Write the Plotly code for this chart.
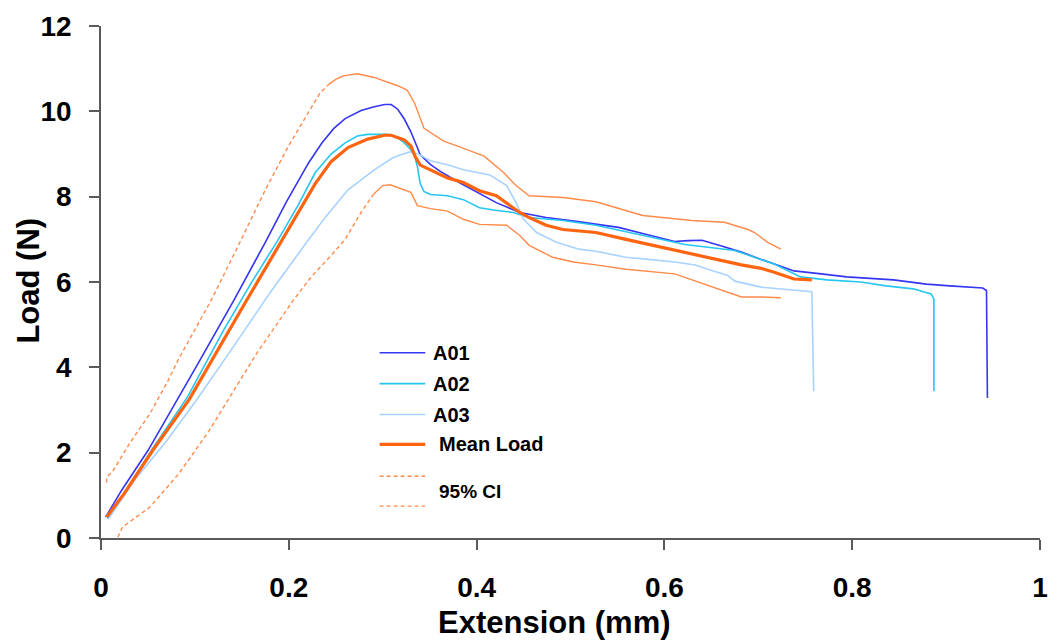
import plotly.graph_objects as go

# ---- Load-extension curves for three specimens -------------------------
a01_x = [0.005, 0.022, 0.050, 0.075, 0.101, 0.141, 0.175, 0.197, 0.221, 0.235,
         0.248, 0.260, 0.277, 0.290, 0.302, 0.309, 0.316, 0.323, 0.330, 0.336,
         0.340, 0.351, 0.361, 0.380, 0.397, 0.421, 0.446, 0.474, 0.506, 0.527,
         0.551, 0.580, 0.611, 0.625, 0.640, 0.660, 0.682, 0.703, 0.717, 0.738,
         0.767, 0.794, 0.844, 0.879, 0.904, 0.939, 0.943, 0.944]
a01_y = [0.49, 1.12, 2.05, 3.00, 4.00, 5.55, 6.93, 7.86, 8.79, 9.25,
         9.60, 9.83, 10.02, 10.10, 10.16, 10.16, 10.05, 9.82, 9.52, 9.20,
         8.98, 8.75, 8.60, 8.35, 8.14, 7.86, 7.63, 7.51, 7.42, 7.35,
         7.28, 7.12, 6.95, 6.97, 6.98, 6.85, 6.70, 6.53, 6.42, 6.26,
         6.19, 6.12, 6.05, 5.95, 5.91, 5.86, 5.80, 3.28]

a02_x = [0.007, 0.025, 0.055, 0.092, 0.130, 0.160, 0.187, 0.210, 0.228, 0.245,
         0.260, 0.273, 0.284, 0.305, 0.316, 0.323, 0.330, 0.334, 0.337, 0.340,
         0.344, 0.351, 0.369, 0.386, 0.403, 0.420, 0.439, 0.456, 0.492, 0.527,
         0.576, 0.622, 0.675, 0.717, 0.745, 0.773, 0.809, 0.836, 0.865, 0.884,
         0.887, 0.887]
a02_y = [0.45, 1.08, 2.10, 3.30, 4.85, 5.98, 6.93, 7.80, 8.56, 9.00,
         9.26, 9.42, 9.46, 9.46, 9.38, 9.26, 9.10, 8.95, 8.70, 8.30,
         8.12, 8.05, 8.02, 7.93, 7.74, 7.68, 7.63, 7.51, 7.44, 7.33,
         7.09, 6.88, 6.74, 6.42, 6.12, 6.05, 6.00, 5.91, 5.84, 5.72,
         5.60, 3.44]

a03_x = [0.008, 0.038, 0.070, 0.101, 0.140, 0.180, 0.219, 0.240, 0.263, 0.291,
         0.310, 0.319, 0.329, 0.338, 0.351, 0.369, 0.386, 0.414, 0.432, 0.442,
         0.450, 0.464, 0.485, 0.509, 0.527, 0.559, 0.583, 0.611, 0.633, 0.646,
         0.667, 0.675, 0.703, 0.724, 0.752, 0.757, 0.759]
a03_y = [0.45, 1.42, 2.28, 3.21, 4.45, 5.75, 6.93, 7.55, 8.16, 8.63,
         8.90, 8.98, 9.05, 9.00, 8.84, 8.75, 8.63, 8.51, 8.26, 7.86,
         7.47, 7.16, 6.93, 6.77, 6.72, 6.58, 6.53, 6.47, 6.40, 6.30,
         6.16, 6.02, 5.88, 5.84, 5.79, 5.77, 3.44]

# ---- Mean load and its 95% confidence band -----------------------------
mean_x = [0.006, 0.025, 0.055, 0.094, 0.154, 0.191, 0.210, 0.228, 0.245, 0.263,
          0.284, 0.302, 0.309, 0.323, 0.330, 0.335, 0.340, 0.351, 0.369, 0.386,
          0.403, 0.421, 0.446, 0.456, 0.474, 0.492, 0.527, 0.559, 0.611, 0.646,
          0.682, 0.703, 0.717, 0.738, 0.757]
mean_y = [0.49, 1.05, 2.05, 3.25, 5.53, 6.93, 7.62, 8.30, 8.82, 9.15,
          9.35, 9.44, 9.44, 9.33, 9.19, 8.92, 8.74, 8.63, 8.44, 8.33,
          8.14, 8.02, 7.63, 7.51, 7.33, 7.23, 7.16, 7.00, 6.74, 6.58,
          6.40, 6.32, 6.23, 6.07, 6.05]

ci_upper_x = [0.006, 0.006, 0.013, 0.030, 0.052, 0.071, 0.083, 0.118, 0.145, 0.168,
              0.175, 0.200, 0.224, 0.233, 0.242, 0.250, 0.258, 0.273, 0.290, 0.305,
              0.316, 0.326, 0.334, 0.344, 0.365, 0.379, 0.408, 0.429, 0.442, 0.456,
              0.492, 0.527, 0.541, 0.577, 0.629, 0.664, 0.689, 0.696, 0.710, 0.724]
ci_upper_y = [1.30, 1.42, 1.58, 2.20, 2.91, 3.67, 4.21, 5.60, 6.80, 7.86,
              8.16, 9.20, 10.10, 10.42, 10.62, 10.75, 10.83, 10.88, 10.80, 10.68,
              10.60, 10.50, 10.19, 9.60, 9.30, 9.19, 8.95, 8.56, 8.26, 8.02,
              7.98, 7.88, 7.79, 7.56, 7.44, 7.40, 7.23, 7.16, 6.93, 6.77]

ci_lower_x = [0.018, 0.023, 0.052, 0.083, 0.115, 0.140, 0.165, 0.190, 0.205, 0.225,
              0.245, 0.260, 0.277, 0.290, 0.300, 0.308, 0.323, 0.330, 0.337, 0.351,
              0.369, 0.386, 0.403, 0.432, 0.446, 0.456, 0.481, 0.503, 0.527, 0.559,
              0.611, 0.646, 0.682, 0.703, 0.724]
ci_lower_y = [0.02, 0.26, 0.72, 1.51, 2.51, 3.40, 4.30, 5.10, 5.58, 6.15,
              6.62, 7.00, 7.63, 8.05, 8.26, 8.28, 8.16, 8.10, 7.79, 7.72,
              7.66, 7.47, 7.35, 7.33, 7.09, 6.86, 6.58, 6.47, 6.40, 6.30,
              6.19, 5.93, 5.65, 5.65, 5.63]

# ---- Axis ticks ----------------------------------------------------------
x_ticks = [0, 0.2, 0.4, 0.6, 0.8, 1]
x_tick_labels = ["0", "0.2", "0.4", "0.6", "0.8", "1"]
y_ticks = [0, 2, 4, 6, 8, 10, 12]
y_tick_labels = ["0", "2", "4", "6", "8", "10", "12"]

COL_A01 = "#3535f2"
COL_A02 = "#26c6f0"
COL_A03 = "#a8d2ff"
COL_MEAN = "#ff6410"
COL_CI = "#ff8a4a"
AXIS_COL = "#5a5a5a"
FONT = "Liberation Sans, Arial, sans-serif"
DASH = "4px,3px"

# Legend entries: label, colour, width
legend_items = [
    ("A01", COL_A01, 1.6),
    ("A02", COL_A02, 1.6),
    ("A03", COL_A03, 1.6),
    ("Mean Load", COL_MEAN, 3.2),
]

# The confidence bounds are drawn dashed along the steep loading branch
# and solid once the points become dense near and after the peak.
UPPER_SPLIT = 0.235
LOWER_SPLIT = 0.29

fig = go.Figure()


def add_line(xs, ys, color, width, dash="solid"):
    fig.add_trace(go.Scatter(x=xs, y=ys, mode="lines",
                             line=dict(color=color, width=width, dash=dash),
                             showlegend=False, hoverinfo="skip"))


add_line(a01_x, a01_y, COL_A01, 1.6)
add_line(a02_x, a02_y, COL_A02, 1.6)
add_line(a03_x, a03_y, COL_A03, 1.6)


def add_ci(xs, ys, split):
    k = next(i for i, v in enumerate(xs) if v >= split)
    add_line(xs[:k + 1], ys[:k + 1], COL_CI, 1.4, DASH)
    add_line(xs[k:], ys[k:], COL_CI, 1.4)


add_ci(ci_upper_x, ci_upper_y, UPPER_SPLIT)
add_ci(ci_lower_x, ci_lower_y, LOWER_SPLIT)
add_line(mean_x, mean_y, COL_MEAN, 3.2)

# ---- Hand-placed legend inside the plot area ----------------------------
L_X0, L_X1 = 0.2967, 0.3453
row_y = [0.3619, 0.3016, 0.2412, 0.1829]
text_x = [0.3516, 0.3516, 0.3516, 0.358]
shapes = []
annotations = []
for (label, col, w), yy, tx in zip(legend_items, row_y, text_x):
    shapes.append(dict(type="line", xref="paper", yref="paper",
                       x0=L_X0, x1=L_X1, y0=yy, y1=yy,
                       line=dict(color=col, width=w)))
    annotations.append(dict(text=label, xref="paper", yref="paper",
                            x=tx, y=yy, xanchor="left", yanchor="middle",
                            showarrow=False,
                            font=dict(family=FONT, size=20, color="black",
                                      weight="bold")))
for yy in (0.1206, 0.0623):
    shapes.append(dict(type="line", xref="paper", yref="paper",
                       x0=L_X0, x1=L_X1, y0=yy, y1=yy,
                       line=dict(color=COL_CI, width=1.4, dash=DASH)))
annotations.append(dict(text="95% CI", xref="paper", yref="paper",
                        x=0.358, y=0.0914, xanchor="left", yanchor="middle",
                        showarrow=False,
                        font=dict(family=FONT, size=19, color="black",
                                  weight="bold")))

# Axis titles
annotations.append(dict(text="Extension (mm)", xref="paper", yref="paper",
                        x=0.4826, y=-0.1654, xanchor="center", yanchor="middle",
                        showarrow=False,
                        font=dict(family=FONT, size=31, color="black",
                                  weight="bold")))
annotations.append(dict(text="Load (N)", xref="paper", yref="paper",
                        x=-0.0771, y=0.502, xanchor="center", yanchor="middle",
                        textangle=-90, showarrow=False,
                        font=dict(family=FONT, size=31, color="black",
                                  weight="bold")))

tick_font = dict(family=FONT, size=28, color="black", weight="bold")
axis_common = dict(showline=True, linecolor=AXIS_COL, linewidth=1.5,
                   ticks="outside", ticklen=10, tickwidth=1.5,
                   tickcolor=AXIS_COL, showgrid=False, zeroline=False,
                   tickfont=tick_font)

fig.update_layout(
    width=1059, height=643,
    margin=dict(l=101, r=11, t=24, b=105),
    paper_bgcolor="white", plot_bgcolor="white",
    xaxis=dict(range=[0, 1], tickvals=x_ticks, ticktext=x_tick_labels,
               ticklabelstandoff=14, **axis_common),
    yaxis=dict(range=[0, 12], tickvals=y_ticks, ticktext=y_tick_labels,
               ticklabelstandoff=12, **axis_common),
    shapes=shapes, annotations=annotations,
    showlegend=False,
)

fig.write_html("out.html")
